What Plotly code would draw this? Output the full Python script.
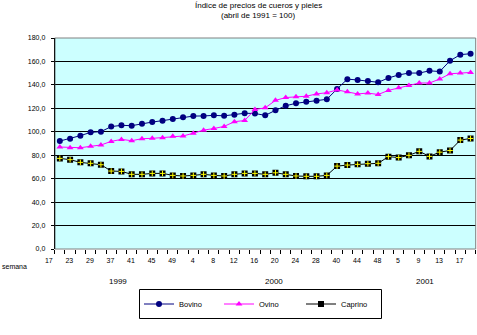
import plotly.graph_objects as go

W, H = 477, 335

# Weeks (semana) of each observation, April 1999 - April 2001
semanas = ["17", "20", "23", "26", "29", "33", "37", "39", "41", "43", "45", "47", "49", "51",
           "4", "6", "8", "10", "12", "14", "16", "18", "20", "22", "24", "26", "28", "36",
           "40", "42", "44", "46", "48", "52", "5", "7", "9", "11", "13", "15", "17"]
etiquetas = semanas[::2]

bovino = [92.1, 94.1, 96.7, 99.5, 100.1, 104.4, 105.5, 105.2, 106.9, 108.3, 109.5, 111.0,
          112.3, 113.4, 113.5, 114.0, 113.6, 114.6, 115.8, 115.6, 114.0, 118.3, 122.2, 124.3,
          125.6, 126.4, 127.7, 136.5, 144.9, 144.2, 143.4, 142.2, 145.9, 148.5, 150.1, 150.1,
          152.0, 151.4, 160.6, 165.8, 166.6]
ovino = [87.0, 86.4, 86.4, 87.6, 88.7, 91.8, 93.5, 92.4, 94.1, 94.4, 95.0, 96.2,
         96.4, 98.8, 101.4, 102.8, 104.6, 108.6, 109.6, 119.0, 120.4, 126.8, 129.2, 129.8,
         130.3, 132.3, 133.3, 135.7, 134.2, 132.3, 133.0, 131.8, 135.3, 137.6, 139.4, 141.6,
         141.6, 145.0, 149.5, 150.2, 150.6]
caprino = [77.3, 76.2, 73.9, 73.1, 71.9, 66.5, 66.2, 63.7, 63.7, 64.5, 64.5, 62.8,
           62.3, 62.8, 63.7, 62.8, 62.3, 63.7, 64.5, 64.5, 63.7, 65.0, 63.7, 62.3,
           62.0, 62.0, 62.8, 70.7, 71.6, 72.2, 72.8, 73.1, 78.8, 78.0, 79.9, 83.3,
           79.0, 82.6, 84.0, 92.9, 94.3]

y_ticks = [0, 20, 40, 60, 80, 100, 120, 140, 160, 180]
y_labels = ["0,0", "20,0", "40,0", "60,0", "80,0", "100,0", "120,0", "140,0", "160,0", "180,0"]

anios = ["1999", "2000", "2001"]
anios_px = [117.5, 274, 425]

FONT = "Liberation Sans, Arial, sans-serif"


def px(x):
    return x / W


def py(y):
    return 1 - y / H


idx = list(range(len(semanas)))

fig = go.Figure()

fig.add_trace(go.Scatter(
    x=idx, y=bovino, name="Bovino", mode="lines+markers", legend="legend",
    line=dict(color="#000080", width=1),
    marker=dict(symbol="circle", size=6, color="#000080"),
))
fig.add_trace(go.Scatter(
    x=idx, y=ovino, name="Ovino", mode="lines+markers", legend="legend2",
    line=dict(color="#FF00FF", width=1),
    marker=dict(symbol="triangle-up", size=6, color="#FF00FF"),
))
fig.add_trace(go.Scatter(
    x=idx, y=caprino, name="Caprino", mode="lines+markers", legend="legend3",
    line=dict(color="#000000", width=1),
    marker=dict(symbol="square", size=6, color="#000000"),
))
fig.add_trace(go.Scatter(
    x=idx, y=caprino, mode="markers", showlegend=False, hoverinfo="skip",
    marker=dict(symbol="cross-thin", size=4, color="#FFFF00",
                line=dict(color="#FFFF00", width=1)),
))

legend_common = dict(
    orientation="h", yanchor="middle", y=py(304), xanchor="left",
    bgcolor="rgba(0,0,0,0)", borderwidth=0,
    font=dict(family=FONT, size=7.5, color="#000000"),
)

fig.update_layout(
    width=W, height=H,
    margin=dict(l=0, r=0, t=0, b=0, autoexpand=False),
    paper_bgcolor="#FFFFFF",
    plot_bgcolor="#CCFFFF",
    font=dict(family=FONT, size=7, color="#000000"),
    legend=dict(x=px(139), **legend_common),
    legend2=dict(x=px(219), **legend_common),
    legend3=dict(x=px(301), **legend_common),
    xaxis=dict(
        domain=[px(54.7), px(475.7)],
        range=[-0.5, len(semanas) - 0.5],
        tickmode="array", tickvals=idx[::2], ticktext=etiquetas,
        ticks="", ticklabelshift=-11, ticklabelstandoff=6,
        showgrid=False, zeroline=False, showline=False,
        tickfont=dict(family=FONT, size=7),
        minor=dict(tickmode="array", tickvals=[i - 0.5 for i in range(len(semanas) + 1)],
                   ticks="outside", ticklen=4, tickwidth=1, tickcolor="#000000",
                   showgrid=False),
        automargin=False, fixedrange=True,
    ),
    yaxis=dict(
        domain=[py(249), py(38)],
        range=[0, 180],
        tickmode="array", tickvals=y_ticks, ticktext=y_labels,
        ticks="outside", ticklen=3, tickwidth=1, tickcolor="#000000",
        ticklabelstandoff=4,
        showgrid=True, gridcolor="#000000", gridwidth=1,
        zeroline=False, showline=True, linecolor="#000000", linewidth=1,
        tickfont=dict(family=FONT, size=7),
        automargin=False, fixedrange=True,
    ),
    shapes=[
        # grey frame of the plotting area
        dict(type="rect", xref="paper", yref="paper",
             x0=px(54.7), x1=px(475.7), y0=py(249), y1=py(38),
             line=dict(color="#808080", width=1), layer="above"),
        # legend box
        dict(type="rect", xref="paper", yref="paper",
             x0=px(139.5), x1=px(381.5), y0=py(318.5), y1=py(289.5),
             line=dict(color="#000000", width=1), fillcolor="rgba(0,0,0,0)"),
    ],
    showlegend=True,
)

# the left axis stays black over the grey frame
fig.add_shape(type="line", xref="paper", yref="paper",
              x0=px(54.7), x1=px(54.7), y0=py(249), y1=py(38),
              line=dict(color="#000000", width=1), layer="above")

annotations = [
    dict(text="Índice de precios de cueros y pieles", x=px(258), y=py(5)),
    dict(text="(abril de 1991 = 100)", x=px(258), y=py(15)),
    dict(text="semana", x=px(14), y=py(266), size=7),
]
for a, xp in zip(anios, anios_px):
    annotations.append(dict(text=a, x=px(xp), y=py(281.5)))

for a in annotations:
    fig.add_annotation(
        text=a["text"], x=a["x"], y=a["y"], xref="paper", yref="paper",
        xanchor="center", yanchor="middle", showarrow=False,
        font=dict(family=FONT, size=a.get("size", 8), color="#000000"),
    )

fig.write_html("out.html")
